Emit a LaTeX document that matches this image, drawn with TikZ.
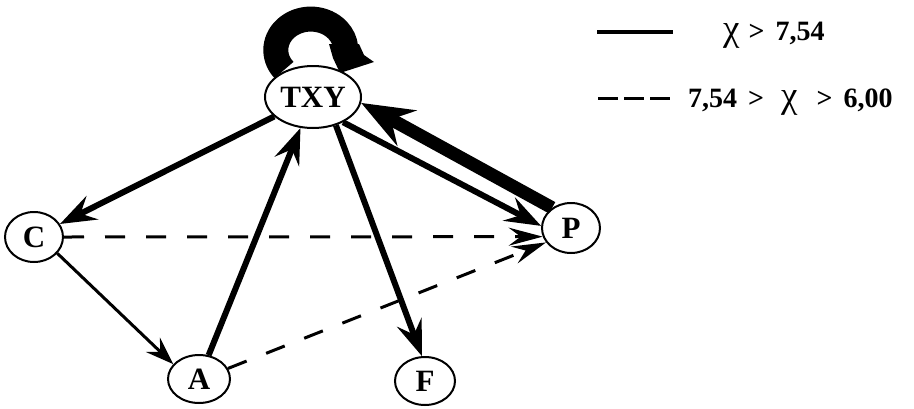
\documentclass[tikz,border=0pt]{standalone}
\usepackage{fontspec}
\setmainfont{Liberation Serif}
\usetikzlibrary{arrows.meta,shapes.geometric,calc}
\pgfdeclarelayer{bg}
\pgfsetlayers{bg,main}
\begin{document}
\begin{tikzpicture}[x=1pt,y=-1pt,
  state/.style={ellipse,draw,line width=2pt,fill=white,inner sep=0pt,
    font=\fontsize{31}{33}\selectfont\bfseries},
  heavy/.style={line width=6pt,-{Stealth[length=36pt,width=26pt,inset=13pt]}},
  medium/.style={line width=3pt,-{Stealth[length=28pt,width=20pt,inset=10pt]}},
  dasharrow/.style={line width=3pt,dash pattern=on 20pt off 21pt,
    -{Stealth[length=34pt,width=18pt,inset=12pt]}},
  heaviest/.style={line width=13pt,-{Stealth[length=52pt,width=40pt,inset=18pt]}},
  legendtext/.style={anchor=base west,inner sep=0pt,font=\fontsize{28}{30}\selectfont\bfseries},
]
\useasboundingbox (0,0) rectangle (914,408);

% nodes
\node[state,minimum width=96pt,minimum height=62pt] (TXY) at (313,97) {TXY};
\node[state,minimum width=58pt,minimum height=50pt] (C) at (34,237) {C};
\node[state,minimum width=62pt,minimum height=48pt] (A) at (199,379) {A};
\node[state,minimum width=60pt,minimum height=48pt] (F) at (425,381) {F};
\node[state,minimum width=58pt,minimum height=50pt] (P) at (571,228) {P};

\begin{pgfonlayer}{bg}
  % self loop on TXY
  \draw[line width=25pt] ($(TXY.center)+(-29,-27)$)
      arc[start angle=140,end angle=355,x radius=35,y radius=31];
  \fill ($(TXY.center)+(32,-53)$) -- ($(TXY.center)+(16,-53)$)
      -- ($(TXY.center)+(20,-39)$) -- ($(TXY.center)+(27,-24)$)
      -- ($(TXY.center)+(61,-35)$) -- ($(TXY.center)+(51,-42)$)
      -- ($(TXY.center)+(46,-53)$) -- cycle;
  % connectors
  \draw[heavy] (TXY) -- (C);
  \draw[medium] (C.-35) -- (A.150);
  \draw[heavy] (A) -- (TXY);
  \draw[heavy] (TXY.-40) -- (P.176);
  \draw[heaviest] (P.133) -- (TXY.-7);
  \draw[heavy] (TXY.-51) -- (F.97);
  \draw[dasharrow] (C.east) -- (P.197);
  \draw[dasharrow] (A.20) -- (P.210);
\end{pgfonlayer}

% legend
\coordinate (s1) at (597,32);
\coordinate (s2) at (673,32);
\draw[line width=4pt] (s1) -- (s2);
\node[legendtext] (l1) at (723,40)
  {{\mdseries\fontsize{37}{39}\selectfont χ}\hspace{9pt}>\hspace{11pt}7,54};
\coordinate (d1) at (598,98);
\coordinate (d2) at (670,98);
\draw[line width=3pt,dash pattern=on 20pt off 6pt] (d1) -- (d2);
\node[legendtext] (l2) at (688,107)
  {7,54\hspace{11pt}>\hspace{17pt}{\mdseries\fontsize{37}{39}\selectfont χ}\hspace{19pt}>\hspace{11pt}6,00};
\end{tikzpicture}
\end{document}
